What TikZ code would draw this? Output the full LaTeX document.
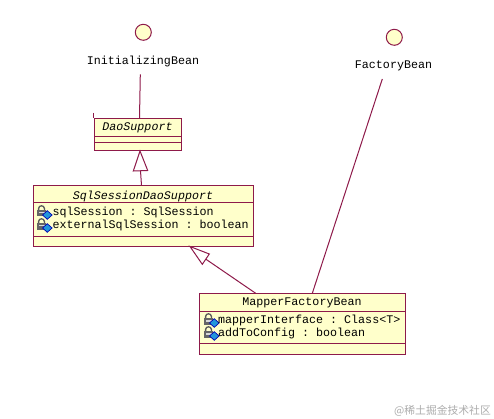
\documentclass[tikz,border=0pt]{standalone}
\usepackage{fontspec}
\setmonofont{Liberation Mono}
\newfontfamily\cjkwm{Noto Sans CJK SC}
\usetikzlibrary{calc}
\definecolor{umlline}{HTML}{8E1A4A}
\definecolor{umlfill}{HTML}{FFFFCB}
\tikzset{
  x=1pt,y=-1pt,
  umlbox/.style={draw=umlline,fill=umlfill,line width=1pt,rectangle,inner sep=0pt,anchor=north west},
  iface/.style={circle,draw=umlline,fill=umlfill,line width=1pt,inner sep=0pt,minimum size=16pt},
  umltext/.style={font=\ttfamily\fontsize{11.67}{12}\selectfont,inner sep=0pt,text=black},
  umlitalic/.style={font=\ttfamily\itshape\fontsize{11.67}{12}\selectfont,inner sep=0pt,text=black},
  attr/.style={umltext,anchor=base west},
  conn/.style={draw=umlline,line width=1pt},
  gentip/.style={draw=umlline,line width=1pt,fill=white,line join=miter},
}
\newcommand{\attricon}[2]{%
  \begin{scope}[shift={(#1,#2)}]
    \draw[black!65,line width=1.3pt] (-2.9,0) -- (-2.9,-2) .. controls (-2.9,-5.6) and (2.9,-5.6) .. (2.9,-2) -- (2.9,0);
    \fill[black!60] (-4.8,-.5) rectangle (4.8,6);
    \fill[black!15] (-3,1.8) rectangle (3,3);
    \filldraw[draw=blue!70!black,fill=cyan!75!blue!90,line width=.7pt] (1,4.5) -- (5.8,.2) -- (10.6,4.5) -- (5.8,8.8) -- cycle;
  \end{scope}}
\begin{document}
\begin{tikzpicture}
\useasboundingbox[fill=white] (0,0) rectangle (494,419);
% interfaces
\node[iface] (ib) at (143.3,32.3) {};
\node[iface] (fb) at (394.3,37.3) {};
\node[umltext] (iblabel) at (143,61) {InitializingBean};
\node[umltext] (fblabel) at (393.5,66) {FactoryBean};
% classes
\node[umlbox,minimum width=87pt,minimum height=32pt] (dao) at (94,118) {};
\node[umlbox,minimum width=219.5pt,minimum height=60.5pt] (sql) at (33,185.5) {};
\node[umlbox,minimum width=205.5pt,minimum height=61pt] (map) at (199.3,293.3) {};
% compartments
\draw[conn] (94,136.7) -- (181,136.7) (94,142.3) -- (181,142.3);
\draw[conn] (33,203) -- (252.5,203) (33,236) -- (252.5,236);
\draw[conn] (199.3,311.7) -- (404.8,311.7) (199.3,343.3) -- (404.8,343.3);
% titles
\node[umlitalic] (daot) at (137.5,128) {DaoSupport};
\node[umlitalic] (sqlt) at (143,196) {SqlSessionDaoSupport};
\node[umltext] (mapt) at (302,303) {MapperFactoryBean};
% attributes
\attricon{41.5}{210.5}
\attricon{41.5}{223.5}
\node[attr] (a1) at (52.3,215.5) {sqlSession : SqlSession};
\node[attr] (a2) at (52.3,228.5) {externalSqlSession : boolean};
\attricon{208.5}{318.5}
\attricon{208.5}{331.5}
\node[attr] (a3) at (218,323.5) {mapperInterface : Class<T>};
\node[attr] (a4) at (218,336.5) {addToConfig : boolean};
% connector ends
\coordinate (ibs) at (140.3,74.3);
\coordinate (daoin) at (139.5,118);
\coordinate (fbs) at (382.3,79);
\coordinate (mapfb) at (312.3,293.3);
\coordinate (daotip) at (140,151);
\coordinate (daol) at (133.3,171);
\coordinate (daor) at (147.7,170.5);
\coordinate (sqlup) at (141.5,185.5);
\coordinate (sqltip) at (190,246.5);
\coordinate (sqll) at (202.3,264.3);
\coordinate (sqlr) at (209.3,254);
\coordinate (mapup) at (255.7,293.3);
\coordinate (ticka) at (93.5,113);
\coordinate (tickb) at (93.5,118);
% connectors
\draw[conn] (ibs) -- (daoin);
\draw[conn] (fbs) -- (mapfb);
\draw[conn] (ticka) -- (tickb);
\draw[conn] (sqlup) -- ($(daol)!.5!(daor)$);
\draw[gentip] (daotip) -- (daol) -- (daor) -- cycle;
\draw[conn] (mapup) -- ($(sqll)!.5!(sqlr)$);
\draw[gentip] (sqltip) -- (sqll) -- (sqlr) -- cycle;
% watermark
\node[font=\cjkwm\fontsize{10.8}{12}\selectfont,text=black!32,anchor=base east,inner sep=0pt] (wm) at (491,414) {@稀土掘金技术社区};
\end{tikzpicture}
\end{document}
